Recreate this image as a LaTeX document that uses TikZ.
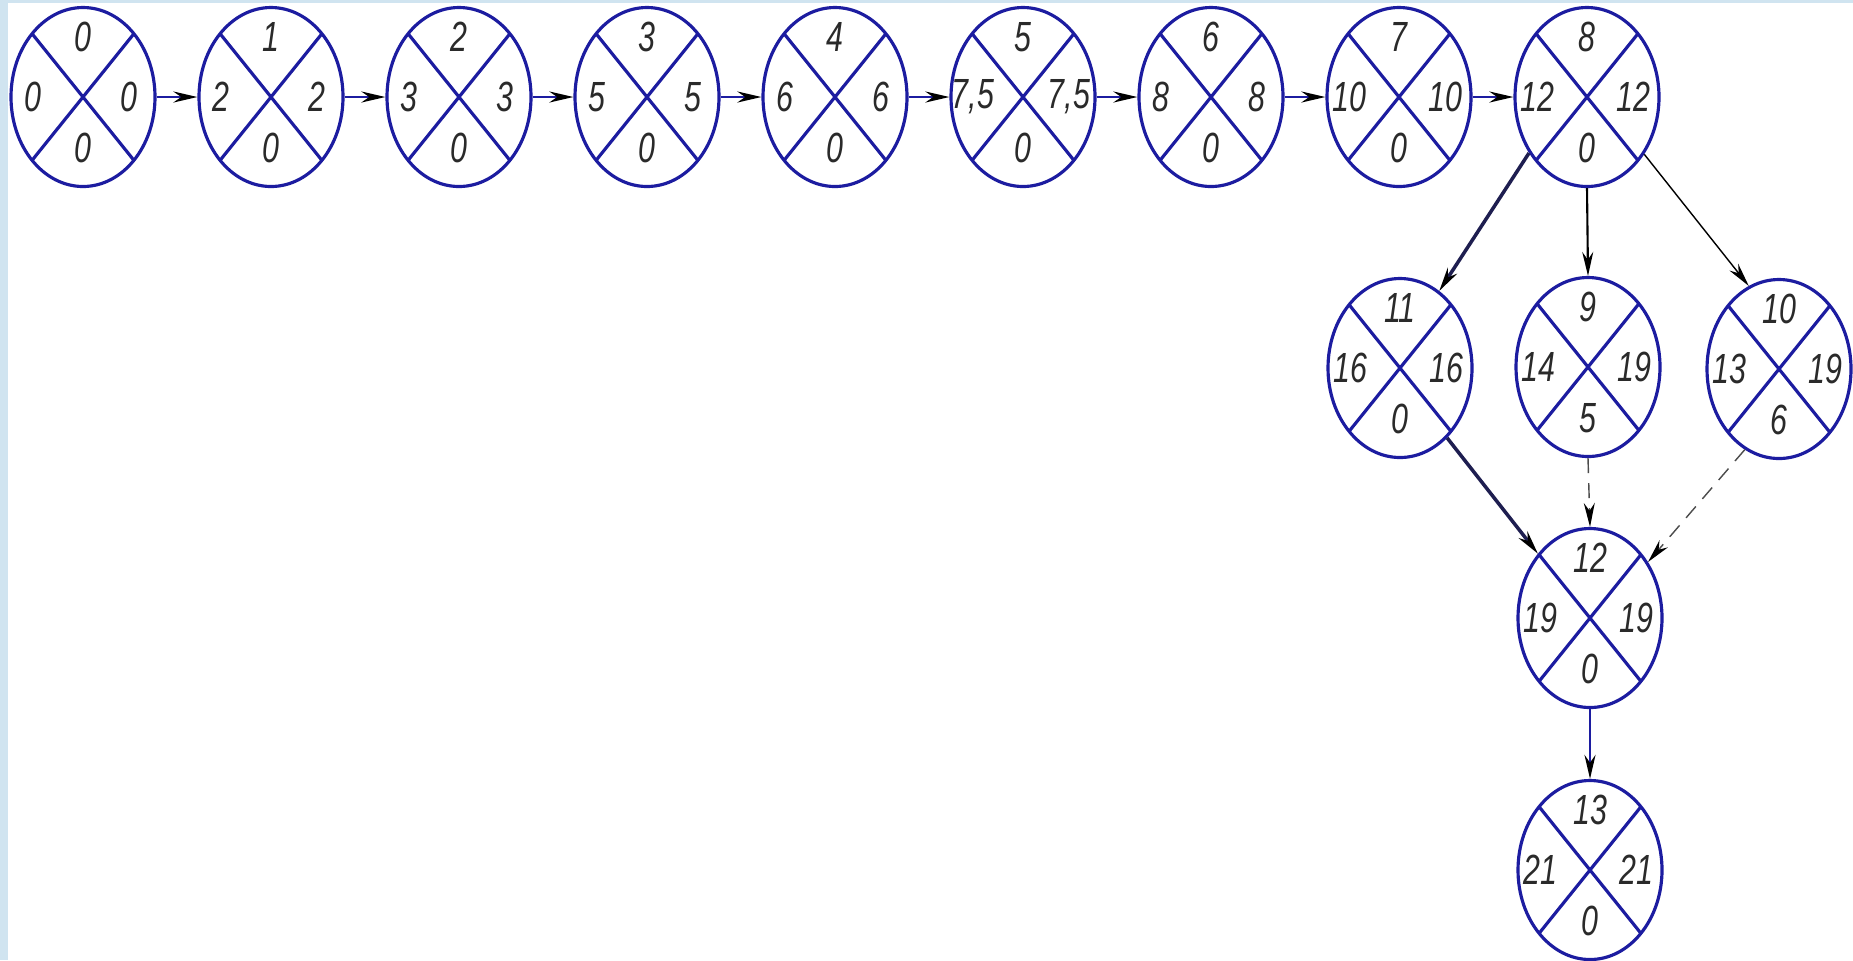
\documentclass[tikz,border=0pt]{standalone}
\usepackage{fontspec}
\usepackage{tikz}
\newfontfamily\gostfont[FakeStretch=0.72]{Liberation Sans}
\usetikzlibrary{shapes.geometric, arrows.meta}
\definecolor{netblue}{HTML}{1C1CA0}
\definecolor{linkdark}{HTML}{1E1E50}
\definecolor{numgray}{HTML}{2A2A2A}
\definecolor{edgeblue}{HTML}{D0E4F0}

\begin{document}
\begin{tikzpicture}[
    num/.style={font=\gostfont\itshape\fontsize{12}{12}\selectfont, text=numgray, inner sep=0pt},
    event/.style n args={4}{ellipse, draw=netblue, line width=0.9pt, minimum width=14.4mm, minimum height=17.9mm, inner sep=0pt,
        path picture={
            \draw[netblue, line width=0.9pt] (path picture bounding box.north west) -- (path picture bounding box.south east)
                (path picture bounding box.south west) -- (path picture bounding box.north east);
            \node[num] at ([yshift=6mm]path picture bounding box.center) {#1};
            \node[num] at ([xshift=-5mm]path picture bounding box.center) {#2};
            \node[num] at ([xshift=4.6mm]path picture bounding box.center) {#3};
            \node[num] at ([yshift=-5.1mm]path picture bounding box.center) {#4};
        }},
    arrow/.style={-{Stealth[length=2.4mm, width=1.1mm, color=black]}, line width=0.8pt, color=netblue},
    dashline/.style={arrow, color=black!70, line width=0.4pt, dash pattern=on 1.5mm off 1mm}
]

% page
\fill[white] (0,0) rectangle (18.53,-9.6);
\fill[edgeblue] (0,0) rectangle (0.08,-9.6);
\fill[edgeblue] (0,0) rectangle (18.53,-0.03);
\useasboundingbox (0,0) rectangle (18.53,-9.6);

% Main chain
\node[event={0}{0}{0}{0}] (e0) at (0.83,-0.97) {};
\node[event={1}{2}{2}{0}] (e1) at (2.71,-0.97) {};
\node[event={2}{3}{3}{0}] (e2) at (4.59,-0.97) {};
\node[event={3}{5}{5}{0}] (e3) at (6.47,-0.97) {};
\node[event={4}{6}{6}{0}] (e4) at (8.35,-0.97) {};
\node[event={5}{7,5}{7,5}{0}] (e5) at (10.23,-0.97) {};
\node[event={6}{8}{8}{0}] (e6) at (12.11,-0.97) {};
\node[event={7}{10}{10}{0}] (e7) at (13.99,-0.97) {};
\node[event={8}{12}{12}{0}] (e8) at (15.87,-0.97) {};

\draw[arrow] (e0) -- (e1);
\draw[arrow] (e1) -- (e2);
\draw[arrow] (e2) -- (e3);
\draw[arrow] (e3) -- (e4);
\draw[arrow] (e4) -- (e5);
\draw[arrow] (e5) -- (e6);
\draw[arrow] (e6) -- (e7);
\draw[arrow] (e7) -- (e8);

% Branches
\node[event={11}{16}{16}{0}] (e11) at (14.00,-3.68) {};
\node[event={9}{14}{19}{5}] (e9) at (15.88,-3.67) {};
\node[event={10}{13}{19}{6}] (e10) at (17.79,-3.69) {};

\draw[arrow, linkdark, line width=1pt] (e8.224) -- (e11.63);
\draw[arrow, black, line width=0.6pt] (e8.south) -- (e9.north);
\draw[arrow, black, line width=0.4pt] (e8.315) -- (e10.110);

% Final events
\node[event={12}{19}{19}{0}] (e12) at (15.90,-6.18) {};
\node[event={13}{21}{21}{0}] (e13) at (15.90,-8.70) {};

\draw[arrow, linkdark, line width=1pt] (e11.304) -- (e12.129);
\draw[dashline] (e9.south) -- (e12.north);
\draw[dashline] (e10.247) -- (e12.44);
\draw[arrow] (e12.south) -- (e13.north);

\end{tikzpicture}
\end{document}
